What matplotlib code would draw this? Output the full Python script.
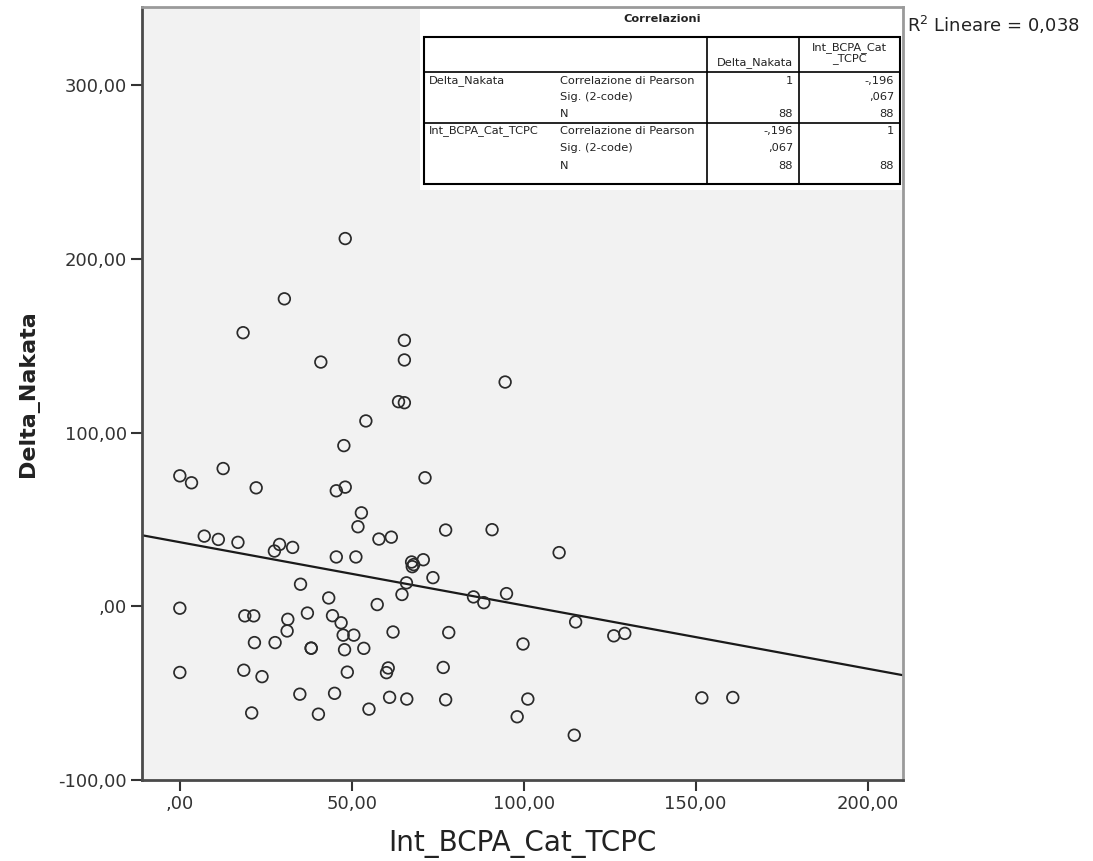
import numpy as np
import matplotlib
matplotlib.use("Agg")
import matplotlib.pyplot as plt
from matplotlib.transforms import Affine2D
from matplotlib.patches import Rectangle
from matplotlib.ticker import FuncFormatter, FixedLocator

# Int_BCPA_Cat_TCPC (x) and Delta_Nakata (y), one pair per case
int_bcpa = [
    48.1, 30.4, 18.4, 65.3, 65.3, 41.0, 63.6, 65.3, 54.1, 47.7,
    94.6, 0.0, 3.4, 12.6, 22.2, 45.5, 48.1, 71.3, 52.8, 51.8,
    57.9, 61.5, 7.1, 11.2, 16.9, 29.0, 27.5, 32.8, 45.5, 51.2,
    67.4, 68.0, 67.6, 70.8, 77.3, 90.8, 110.3, 73.6, 65.9, 64.6,
    35.1, 43.3, 57.4, 85.4, 88.4, 95.0, 0.0, 18.9, 21.5, 31.4,
    31.2, 37.1, 44.4, 46.9, 47.5, 50.6, 62.0, 78.2, 115.1, 126.2,
    129.4, 99.8, 21.7, 27.7, 38.2, 38.2, 47.9, 53.5, 0.0, 18.6,
    23.9, 48.7, 60.6, 60.1, 76.6, 34.9, 45.0, 61.0, 66.0, 77.3,
    101.2, 151.8, 160.8, 20.9, 40.3, 55.0, 98.1, 114.7,
]
delta_nakata = [
    211.7, 177.0, 157.5, 153.1, 141.8, 140.6, 117.8, 117.2, 106.7, 92.5,
    129.1, 75.1, 71.1, 79.3, 68.2, 66.5, 68.6, 74.0, 53.8, 45.8,
    38.7, 39.8, 40.4, 38.5, 36.8, 35.6, 31.8, 33.9, 28.4, 28.4,
    25.5, 24.0, 22.8, 26.8, 43.9, 44.1, 30.9, 16.5, 13.5, 6.8,
    12.7, 4.8, 1.0, 5.4, 2.1, 7.3, -1.1, -5.5, -5.5, -7.5,
    -14.2, -3.9, -5.4, -9.5, -16.6, -16.6, -14.8, -15.1, -9.0, -17.0,
    -15.6, -21.7, -20.9, -20.9, -24.1, -24.1, -25.0, -24.2, -38.1, -36.8,
    -40.5, -37.9, -35.5, -38.2, -35.2, -50.6, -50.1, -52.4, -53.4, -53.8,
    -53.4, -52.7, -52.5, -61.4, -62.1, -59.2, -63.6, -74.2,
]

x_ticks = [0, 50, 100, 150, 200]
y_ticks = [-100, 0, 100, 200, 300]
x_label = "Int_BCPA_Cat_TCPC"
y_label = "Delta_Nakata"
r_squared_text = "0,038"

table_title = "Correlazioni"
table_header = ["Delta_Nakata", "Int_BCPA_Cat\n_TCPC"]
table_blocks = [
    ("Delta_Nakata", [("Correlazione di Pearson", "1", "-,196"),
                      ("Sig. (2-code)", "", ",067"),
                      ("N", "88", "88")]),
    ("Int_BCPA_Cat_TCPC", [("Correlazione di Pearson", "-,196", "1"),
                           ("Sig. (2-code)", ",067", ""),
                           ("N", "88", "88")]),
]


def it_number(v, _pos=None):
    s = f"{v:.2f}".replace(".", ",")
    if s.startswith("0,"):
        s = s[1:]
    elif s.startswith("-0,"):
        s = "-" + s[2:]
    return s


W, H = 1093, 861
fig = plt.figure(figsize=(W / 100, H / 100), dpi=100)
fig.patch.set_facecolor("white")

# pixel coordinates measured from the top-left corner of the figure
pix = Affine2D().scale(1 / W, -1 / H).translate(0, 1) + fig.transFigure

ax = fig.add_axes([142 / W, (H - 780) / H, (903 - 142) / W, (780 - 7) / H])
ax.set_facecolor("#f2f2f2")
ax.set_xlim(-11, 210.3)
ax.set_ylim(-100, 345)

for side in ("left", "bottom"):
    ax.spines[side].set_color("#4a4a4a")
    ax.spines[side].set_linewidth(2.0)
for side in ("top", "right"):
    ax.spines[side].set_color("#9a9a9a")
    ax.spines[side].set_linewidth(2.0)

ax.xaxis.set_major_locator(FixedLocator(x_ticks))
ax.yaxis.set_major_locator(FixedLocator(y_ticks))
ax.xaxis.set_major_formatter(FuncFormatter(it_number))
ax.yaxis.set_major_formatter(FuncFormatter(it_number))
ax.tick_params(axis="both", direction="out", length=8, width=1.5,
               color="#333333", labelcolor="#333333", labelsize=13, pad=3)

ax.scatter(int_bcpa, delta_nakata, s=70, facecolors="none",
           edgecolors="#2a2a2a", linewidths=1.25, zorder=3)

# least-squares fit line over the full x range
slope, intercept = np.polyfit(int_bcpa, delta_nakata, 1)
xl = np.array(ax.get_xlim())
ax.plot(xl, intercept + slope * xl, color="#1a1a1a", lw=1.6, zorder=2,
        solid_capstyle="butt")

ax.set_xlabel(x_label, fontsize=20, color="#222222", labelpad=12)
ax.set_ylabel(y_label, fontsize=16, fontweight="bold", color="#222222", labelpad=14)

fig.text(907 / W, 1 - 25 / H, r"$\mathregular{R^2}$ Lineare = " + r_squared_text,
         fontsize=13, color="#222222", va="center", ha="left")

# correlation table laid over the upper-right part of the plot area
ax.add_patch(Rectangle((420, 8), 482, 182, transform=pix, facecolor="white",
                       edgecolor="none", zorder=2.3, clip_on=False))
box_l, box_r, box_t, box_b = 424, 900, 37, 184
col1, col2 = 707, 799
hdr_line, mid_line = 72, 123
row_y = [81, 97, 114, 131, 148, 166]


def hline(y, x0=box_l, x1=box_r, lw=1.2):
    ax.plot([x0, x1], [y, y], transform=pix, color="black", lw=lw,
            clip_on=False, zorder=4)


def vline(x, y0=box_t, y1=box_b, lw=1.2):
    ax.plot([x, x], [y0, y1], transform=pix, color="black", lw=lw,
            clip_on=False, zorder=4)


ax.add_patch(Rectangle((box_l, box_t), box_r - box_l, box_b - box_t, transform=pix,
                       facecolor="none", edgecolor="black", lw=1.5,
                       zorder=4, clip_on=False))
hline(hdr_line)
hline(mid_line)
vline(col1)
vline(col2)

tkw = dict(transform=pix, fontsize=8.2, color="#222222", zorder=5, clip_on=False)
ax.text((box_l + box_r) / 2, 19, table_title, ha="center", va="center",
        fontweight="bold", **tkw)
ax.text(col2 - 6, 63, table_header[0], ha="right", va="center", **tkw)
ax.text((col2 + box_r) / 2, 53, table_header[1], ha="center", va="center",
        linespacing=0.9, **tkw)

i = 0
for name, rows in table_blocks:
    ax.text(box_l + 5, row_y[i], name, ha="left", va="center", **tkw)
    for stat, v1, v2 in rows:
        ax.text(560, row_y[i], stat, ha="left", va="center", **tkw)
        ax.text(col2 - 6, row_y[i], v1, ha="right", va="center", **tkw)
        ax.text(box_r - 6, row_y[i], v2, ha="right", va="center", **tkw)
        i += 1

fig.savefig("out.png", dpi=100, facecolor="white")
